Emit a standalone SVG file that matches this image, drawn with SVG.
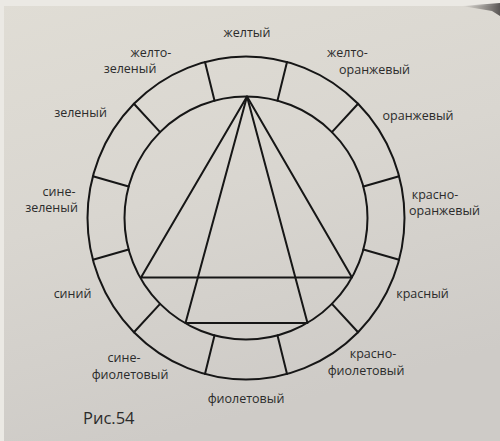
<svg xmlns="http://www.w3.org/2000/svg" width="500" height="441" viewBox="0 0 500 441">
<defs>
<linearGradient id="paper" x1="0" y1="0" x2="0.3" y2="1">
<stop offset="0" stop-color="#e0ddd5"/>
<stop offset="0.5" stop-color="#d9d6d0"/>
<stop offset="1" stop-color="#cecbc7"/>
</linearGradient>
<linearGradient id="corner" x1="0" y1="0" x2="1" y2="0">
<stop offset="0" stop-color="#6a6663" stop-opacity="0"/>
<stop offset="1" stop-color="#4a4746" stop-opacity="0.9"/>
</linearGradient>
<style>
.ln{fill:none;stroke:#161616;stroke-width:2;stroke-linecap:round;stroke-linejoin:round}
.lb{font-family:"Open Sans","Noto Sans","DejaVu Sans",sans-serif;font-size:12.5px;fill:#2b2b2b;text-anchor:middle}
.cap{font-family:"Open Sans","Noto Sans","DejaVu Sans",sans-serif;font-size:16.5px;fill:#2b2b2b}
</style>
</defs>
<rect x="0" y="0" width="500" height="441" fill="url(#paper)"/>
<rect x="0" y="0" width="500" height="6" fill="#ebe9e4"/>
<rect x="0" y="0" width="4" height="441" fill="#ebe9e4"/>
<polygon points="462,6 500,3 500,16 492,11" fill="url(#corner)"/>

<g id="wheel">
<ellipse class="ln" cx="246" cy="218" rx="158.5" ry="161.5"/>
<circle class="ln" cx="246" cy="218" r="121.5"/>
</g>

<g id="dividers" class="ln">
<line x1="277.45" y1="100.64" x2="287.02" y2="62.01"/>
<line x1="331.91" y1="132.09" x2="358.08" y2="103.80"/>
<line x1="363.36" y1="186.55" x2="399.10" y2="176.20"/>
<line x1="363.36" y1="249.45" x2="399.10" y2="259.80"/>
<line x1="331.91" y1="303.91" x2="358.08" y2="332.20"/>
<line x1="277.45" y1="335.36" x2="287.02" y2="373.99"/>
<line x1="214.55" y1="335.36" x2="204.98" y2="373.99"/>
<line x1="160.09" y1="303.91" x2="133.92" y2="332.20"/>
<line x1="128.64" y1="249.45" x2="92.90" y2="259.80"/>
<line x1="128.64" y1="186.55" x2="92.90" y2="176.20"/>
<line x1="160.09" y1="132.09" x2="133.92" y2="103.80"/>
<line x1="214.55" y1="100.64" x2="204.98" y2="62.01"/>
</g>

<g id="triangles" class="ln">
<polygon points="247,96.5 141,277.5 352,277.5"/>
<polygon points="247,96.5 185.5,323 307.5,323"/>
</g>

<g id="labels">
<text class="lb" x="247" y="37">желтый</text>
<text class="lb" x="151" y="57">желто-</text>
<text class="lb" x="130" y="73">зеленый</text>
<text class="lb" x="347.5" y="57">желто-</text>
<text class="lb" x="374.5" y="74">оранжевый</text>
<text class="lb" x="80.5" y="117">зеленый</text>
<text class="lb" x="418" y="120">оранжевый</text>
<text class="lb" x="59" y="196">сине-</text>
<text class="lb" x="51.5" y="212">зеленый</text>
<text class="lb" x="435" y="199">красно-</text>
<text class="lb" x="444.5" y="215">оранжевый</text>
<text class="lb" x="72.5" y="298">синий</text>
<text class="lb" x="422.5" y="298">красный</text>
<text class="lb" x="124" y="362">сине-</text>
<text class="lb" x="130" y="379">фиолетовый</text>
<text class="lb" x="373" y="358">красно-</text>
<text class="lb" x="366" y="375">фиолетовый</text>
<text class="lb" x="246" y="403">фиолетовый</text>
<text class="cap" x="83" y="424">Рис.54</text>
</g>
</svg>
